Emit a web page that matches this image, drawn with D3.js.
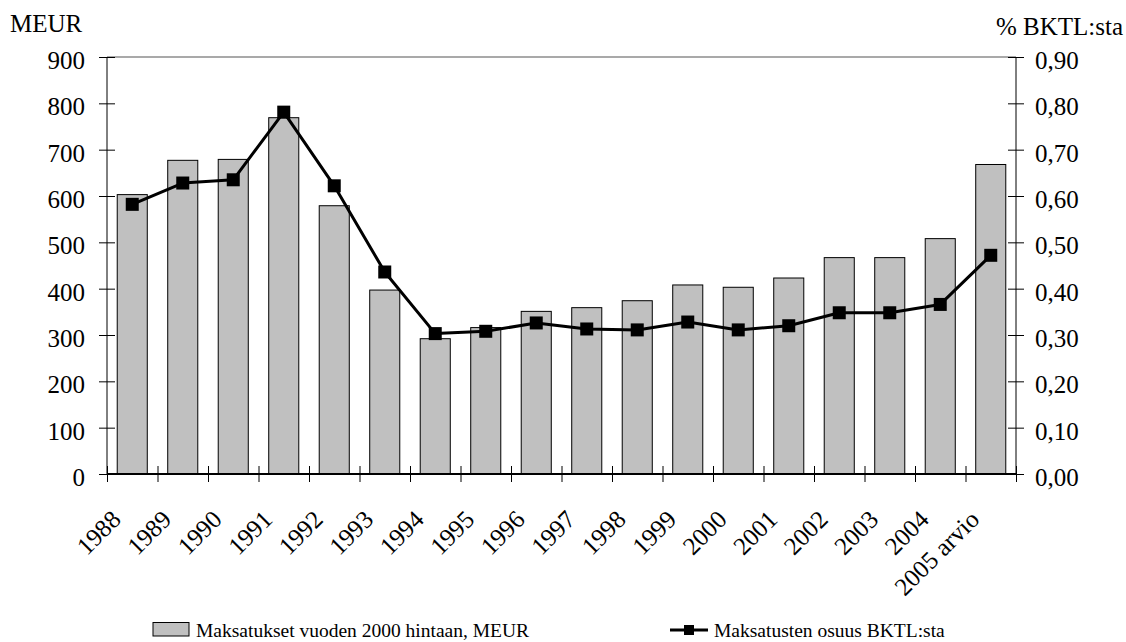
<!DOCTYPE html>
<html>
<head>
<meta charset="utf-8">
<script src="https://cdn.jsdelivr.net/npm/d3@7"></script>
<style>
  body { margin: 0; background: #fff; }
</style>
</head>
<body>
<div id="chart"></div>
<script>
var years = ["1988", "1989", "1990", "1991", "1992", "1993", "1994", "1995", "1996",
  "1997", "1998", "1999", "2000", "2001", "2002", "2003", "2004", "2005 arvio"];
var payments = [603, 677, 679, 769, 579, 397, 292, 316, 351, 359, 374, 408, 403, 423, 467, 467, 508, 668];
var gdpShare = [0.582, 0.628, 0.635, 0.781, 0.622, 0.436, 0.303, 0.308, 0.326, 0.313, 0.311, 0.328,
  0.311, 0.320, 0.348, 0.348, 0.366, 0.472];
var leftTicks = [0, 100, 200, 300, 400, 500, 600, 700, 800, 900];
var rightTicks = [0, 0.1, 0.2, 0.3, 0.4, 0.5, 0.6, 0.7, 0.8, 0.9];
var barLabel = "Maksatukset vuoden 2000 hintaan, MEUR";
var lineLabel = "Maksatusten osuus BKTL:sta";

var FONT = "Liberation Serif";

var W = 1126, H = 642;
var margin = {top: 57, left: 107, right: 110, bottom: 168};
var w = W - margin.left - margin.right,
    h = H - margin.top - margin.bottom;

var svg = d3.select("#chart").append("svg")
  .attr("width", W).attr("height", H)
  .attr("font-family", FONT);

var g = svg.append("g").attr("transform", "translate(" + margin.left + "," + margin.top + ")");

var pad = 0.405;
var x = d3.scaleBand().domain(years).range([0, w]).paddingInner(pad).paddingOuter(pad / 2);
var xb = d3.scaleLinear().domain([0, years.length]).range([0, w]);
var y = d3.scaleLinear().domain([0, 900]).range([h, 0]);
var y2 = d3.scaleLinear().domain([0, 0.9]).range([h, 0]);

// gray top border
g.append("line")
  .attr("x1", 0).attr("x2", w).attr("y1", 0).attr("y2", 0)
  .attr("stroke", "#8c8c8c").attr("stroke-width", 1.5);

// bars
g.selectAll("rect.bar")
  .data(payments)
  .enter().append("rect")
  .attr("class", "bar")
  .attr("x", function(d, i) { return x(years[i]); })
  .attr("y", function(d) { return y(d); })
  .attr("width", x.bandwidth())
  .attr("height", function(d) { return h - y(d); })
  .attr("fill", "#c0c0c0")
  .attr("stroke", "#000")
  .attr("stroke-width", 1);

// left axis
var yAxis = g.append("g")
  .call(d3.axisLeft(y).tickValues(leftTicks).tickSize(8));
yAxis.attr("font-family", FONT).attr("font-size", 25);
yAxis.selectAll(".tick line").attr("x1", 8).attr("x2", -8);
yAxis.select(".domain").attr("d", "M0," + h + "V0");
yAxis.selectAll("text").attr("x", -22).attr("dy", "0.46em").attr("fill", "#000");

// right axis
var fmt = d3.format(".2f");
var y2Axis = g.append("g")
  .attr("transform", "translate(" + w + ",0)")
  .call(d3.axisRight(y2).tickValues(rightTicks).tickSize(8)
    .tickFormat(function(d) { return fmt(d).replace(".", ","); }));
y2Axis.attr("font-family", FONT).attr("font-size", 25);
y2Axis.selectAll(".tick line").attr("x1", -8).attr("x2", 8);
y2Axis.select(".domain").attr("d", "M0," + h + "V0");
y2Axis.selectAll("text").attr("x", 19).attr("dy", "0.46em").attr("fill", "#000");

// bottom axis with boundary ticks
var xAxis = g.append("g")
  .attr("transform", "translate(0," + h + ")")
  .call(d3.axisBottom(xb).tickValues(d3.range(years.length + 1)).tickSize(8).tickFormat(""));
xAxis.selectAll(".tick line").attr("y1", -8).attr("y2", 8);
xAxis.select(".domain").attr("d", "M0,0H" + w).attr("stroke-width", 2);

// rotated category labels
g.append("g").selectAll("text.cat")
  .data(years)
  .enter().append("text")
  .attr("class", "cat")
  .attr("text-anchor", "end")
  .attr("font-size", 25)
  .attr("transform", function(d) {
    return "translate(" + (x(d) + x.bandwidth() / 2 - 10) + "," + (h + 47) + ") rotate(-45)";
  })
  .text(function(d) { return d; });

// line + markers
var line = d3.line()
  .x(function(d, i) { return x(years[i]) + x.bandwidth() / 2; })
  .y(function(d) { return y2(d); });

g.append("path")
  .datum(gdpShare)
  .attr("d", line)
  .attr("fill", "none")
  .attr("stroke", "#000")
  .attr("stroke-width", 3)
  .attr("stroke-linejoin", "round");

var ms = 13;
g.selectAll("rect.marker")
  .data(gdpShare)
  .enter().append("rect")
  .attr("class", "marker")
  .attr("x", function(d, i) { return x(years[i]) + x.bandwidth() / 2 - ms / 2; })
  .attr("y", function(d) { return y2(d) - ms / 2; })
  .attr("width", ms).attr("height", ms)
  .attr("fill", "#000");

// axis titles
svg.append("text").attr("x", 10).attr("y", 32).attr("font-size", 25).text("MEUR");
svg.append("text").attr("x", 1123).attr("y", 35).attr("text-anchor", "end")
  .attr("font-size", 25).text("% BKTL:sta");

// legend
var leg = svg.append("g");
leg.append("rect").attr("x", 153).attr("y", 622.5).attr("width", 36).attr("height", 13.5)
  .attr("fill", "#c0c0c0").attr("stroke", "#000").attr("stroke-width", 1);
leg.append("text").attr("x", 196).attr("y", 637).attr("font-size", 19.5).text(barLabel);

leg.append("line").attr("x1", 670).attr("x2", 708).attr("y1", 630).attr("y2", 630)
  .attr("stroke", "#000").attr("stroke-width", 3);
leg.append("rect").attr("x", 684).attr("y", 625).attr("width", 10).attr("height", 10).attr("fill", "#000");
leg.append("text").attr("x", 714).attr("y", 637).attr("font-size", 19.5).text(lineLabel);
</script>
</body>
</html>
